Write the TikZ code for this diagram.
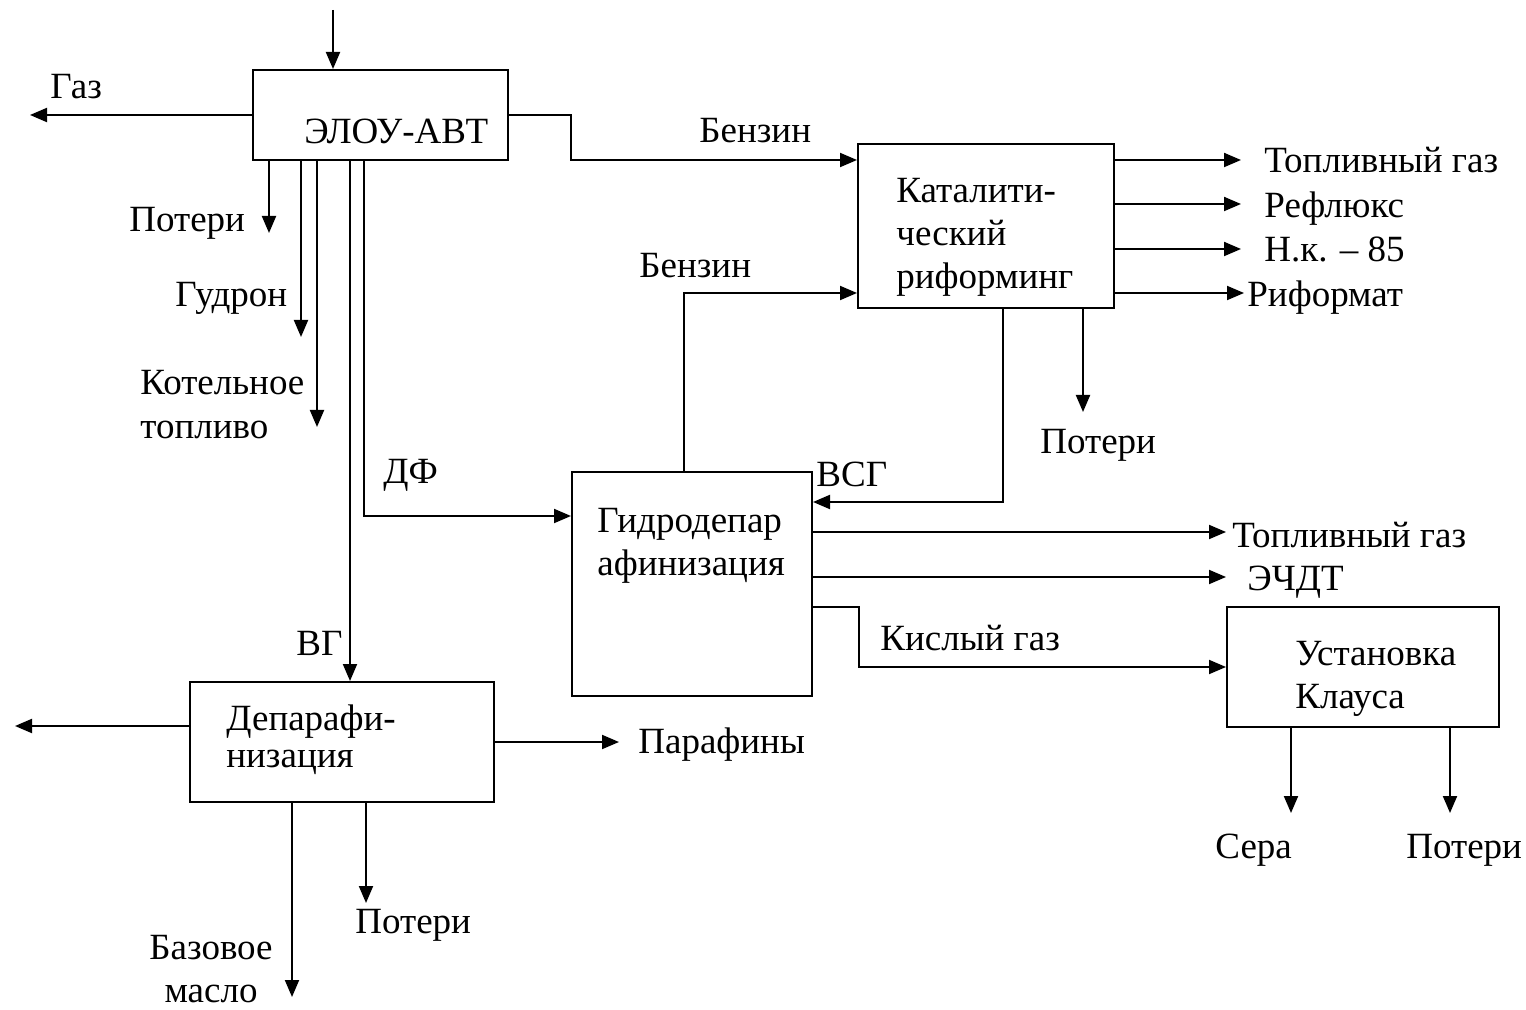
\documentclass[tikz,border=0pt]{standalone}
\usepackage{fontspec}
\setmainfont{Liberation Serif}
\usepackage{tikz}
\usetikzlibrary{arrows.meta}
\tikzset{
  unit/.style = {draw, line width=1pt, inner sep=0pt},
  ar/.style   = {-{Triangle[length=8.5pt,width=7pt]}, line width=1pt},
  lbl/.style  = {anchor=base west, inner sep=0pt, align=left},
}

\begin{document}
\begin{tikzpicture}[x=0.5pt, y=-0.5pt, font=\fontsize{18.5}{21.5}\selectfont]
\useasboundingbox (0,0) rectangle (1526,1010);
\node[unit, minimum width=127.5pt, minimum height=45pt] (elou)  at (380.5,115) {};
\node[unit, minimum width=128pt,   minimum height=82pt] (kat)   at (986,226) {};
\node[unit, minimum width=120pt,   minimum height=112pt] (gidro) at (692,584) {};
\node[unit, minimum width=136pt,   minimum height=60pt] (klaus) at (1363,667) {};
\node[unit, minimum width=152pt,   minimum height=60pt] (depar) at (342,742) {};

\node[lbl] (t-elou)  at (304,144) {ЭЛОУ-АВТ};
\node[lbl] (t-kat)   at (896,289) {Каталити-\\ческий\\риформинг};
\node[lbl] (t-gidro) at (597,575) {Гидродепар\\афинизация};
\node[lbl] (t-klaus) at (1295,708) {Установка\\Клауса};
\node[lbl] (t-depar) at (226,767) {Депарафи-\\[-3pt]низация};

\coordinate (feed)  at (333,10);
\coordinate (gas)   at (30,115);
\coordinate (lossE) at (269,233);
\coordinate (tar)   at (301,337);
\coordinate (fuel)  at (317,427);
\coordinate (vg)    at (350,600);
\coordinate (df)    at (364,516);
\coordinate (bz1)   at (571,160);
\coordinate (bz2)   at (684,293);
\coordinate (fg1)   at (1241,160);
\coordinate (refl)  at (1241,204);
\coordinate (nk)    at (1241,249);
\coordinate (rfm)   at (1244,293);
\coordinate (lossK) at (1083,412);
\coordinate (vsg)   at (1003,502);
\coordinate (fg2)   at (1226,532);
\coordinate (echdt) at (1226,577);
\coordinate (sg)    at (859,607);
\coordinate (sulf)  at (1291,813);
\coordinate (lossC) at (1450,813);
\coordinate (dwax)  at (15,726);
\coordinate (paraf) at (619,742);
\coordinate (oil)   at (292,997);
\coordinate (lossD) at (366,903);

\draw[ar] (feed) -- (feed |- elou.north);
\draw[ar] (elou.west |- gas) -- (gas);
\draw[ar] (elou.south -| lossE) -- (lossE);
\draw[ar] (elou.south -| tar) -- (tar);
\draw[ar] (elou.south -| fuel) -- (fuel);
\draw[ar] (elou.south -| vg) -- (depar.north -| vg);
\draw[ar] (elou.south -| df) -- (df) -- (gidro.west |- df);
\draw[ar] (elou.east) -| (bz1) -- (kat.west |- bz1);
\draw[ar] (gidro.north -| bz2) -- (bz2) -- (kat.west |- bz2);
\draw[ar] (kat.east |- fg1) -- (fg1);
\draw[ar] (kat.east |- refl) -- (refl);
\draw[ar] (kat.east |- nk) -- (nk);
\draw[ar] (kat.east |- rfm) -- (rfm);
\draw[ar] (kat.south -| lossK) -- (lossK);
\draw[ar] (kat.south -| vsg) -- (vsg) -- (gidro.east |- vsg);
\draw[ar] (gidro.east |- fg2) -- (fg2);
\draw[ar] (gidro.east |- echdt) -- (echdt);
\draw[ar] (gidro.east |- sg) -- (sg) |- (klaus.west);
\draw[ar] (klaus.south -| sulf) -- (sulf);
\draw[ar] (klaus.south -| lossC) -- (lossC);
\draw[ar] (depar.west |- dwax) -- (dwax);
\draw[ar] (depar.east) -- (paraf);
\draw[ar] (depar.south -| oil) -- (oil);
\draw[ar] (depar.south -| lossD) -- (lossD);

\node[lbl] (l-gas)   at (50,99)    {Газ};
\node[lbl] (l-lossE) at (129,232)  {Потери};
\node[lbl] (l-tar)   at (175,307)  {Гудрон};
\node[lbl] (l-fuel)  at (140,438)  {Котельное\\топливо};
\node[lbl] (l-df)    at (383,484)  {ДФ};
\node[lbl] (l-vg)    at (296,655)  {ВГ};
\node[lbl] (l-bz1)   at (699,143)  {Бензин};
\node[lbl] (l-bz2)   at (639,278)  {Бензин};
\node[lbl] (l-fg1)   at (1264,173) {Топливный газ};
\node[lbl] (l-refl)  at (1264,218) {Рефлюкс};
\node[lbl] (l-nk)    at (1264,262) {Н.к. – 85};
\node[lbl] (l-rfm)   at (1247,307) {Риформат};
\node[lbl] (l-lossK) at (1040,453) {Потери};
\node[lbl] (l-vsg)   at (816,487)  {ВСГ};
\node[lbl] (l-fg2)   at (1232,547) {Топливный газ};
\node[lbl] (l-echdt) at (1247,590) {ЭЧДТ};
\node[lbl] (l-sg)    at (880,650)  {Кислый газ};
\node[lbl] (l-sulf)  at (1215,858) {Сера};
\node[lbl] (l-lossC) at (1406,858) {Потери};
\node[lbl] (l-paraf) at (638,753)  {Парафины};
\node[lbl] (l-lossD) at (355,933)  {Потери};
\node[lbl, align=center, anchor=base] (l-oil) at (211,1002) {Базовое\\масло};
\end{tikzpicture}
\end{document}
